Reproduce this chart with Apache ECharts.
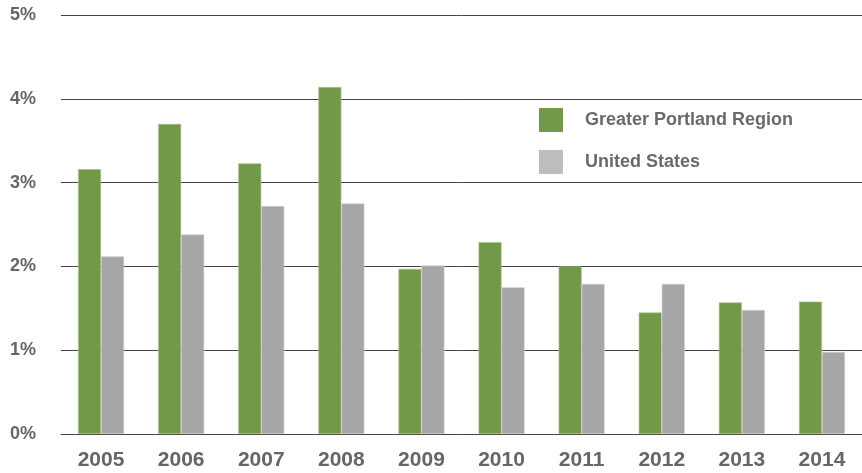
<!DOCTYPE html>
<html>
<head>
<meta charset="utf-8">
<script src="https://cdn.jsdelivr.net/npm/echarts@6/dist/echarts.min.js"></script>
<style>
  html, body { margin: 0; padding: 0; background: #fff; }
  #chart { width: 862px; height: 473px; }
</style>
</head>
<body>
<div id="chart"></div>
<script>
const years = ['2005', '2006', '2007', '2008', '2009', '2010', '2011', '2012', '2013', '2014']
const portland = [3.16, 3.70, 3.23, 4.14, 1.97, 2.29, 2.00, 1.45, 1.57, 1.58]
const usa = [2.12, 2.38, 2.72, 2.75, 2.01, 1.75, 1.79, 1.79, 1.48, 0.98]
const yTicks = [0, 1, 2, 3, 4, 5]

//初始化图表
const chart = echarts.init(document.getElementById('chart'))
const labelFont = 'Liberation Sans, Arial, sans-serif'
const option = {
  animation: false,
  grid: {
    left: 61,
    width: 811,
    top: 15,
    bottom: 39
  },
  legend: {
    orient: 'vertical',
    left: 539,
    top: 108,
    padding: 0,
    itemWidth: 24,
    itemHeight: 24,
    itemGap: 18,
    icon: 'rect',
    data: [
      { name: 'Greater Portland Region', itemStyle: { color: '#72994a', borderWidth: 0 } },
      { name: 'United States', itemStyle: { color: '#bdbdbd', borderWidth: 0 } }
    ],
    textStyle: {
      color: '#6a6a6a',
      fontSize: 18,
      fontWeight: 'bold',
      fontFamily: labelFont,
      padding: [0, 0, 0, 17]
    }
  },
  xAxis: {
    type: 'category',
    data: years,
    axisLine: { lineStyle: { color: '#444', width: 1 } },
    axisTick: { show: false },
    axisLabel: {
      color: '#666',
      fontSize: 21,
      fontWeight: 'bold',
      fontFamily: labelFont,
      margin: 16
    }
  },
  yAxis: {
    type: 'value',
    min: yTicks[0],
    max: yTicks[yTicks.length - 1],
    interval: 1,
    axisLine: { show: false },
    axisTick: { show: false },
    splitLine: { lineStyle: { color: '#444', width: 1 } },
    axisLabel: {
      color: '#666',
      fontSize: 18,
      fontWeight: 'bold',
      fontFamily: labelFont,
      margin: 25,
      formatter: '{value}%'
    }
  },
  series: [
    {
      name: 'Greater Portland Region',
      type: 'bar',
      data: portland,
      barWidth: 23,
      barGap: '0%',
      itemStyle: { color: '#72994a', borderColor: '#a9c48c', borderWidth: 0.6 }
    },
    {
      name: 'United States',
      type: 'bar',
      data: usa,
      barWidth: 23,
      itemStyle: { color: '#a6a6a6', borderColor: '#cfcfcf', borderWidth: 0.6 }
    }
  ]
}
chart.setOption(option)
</script>
</body>
</html>
